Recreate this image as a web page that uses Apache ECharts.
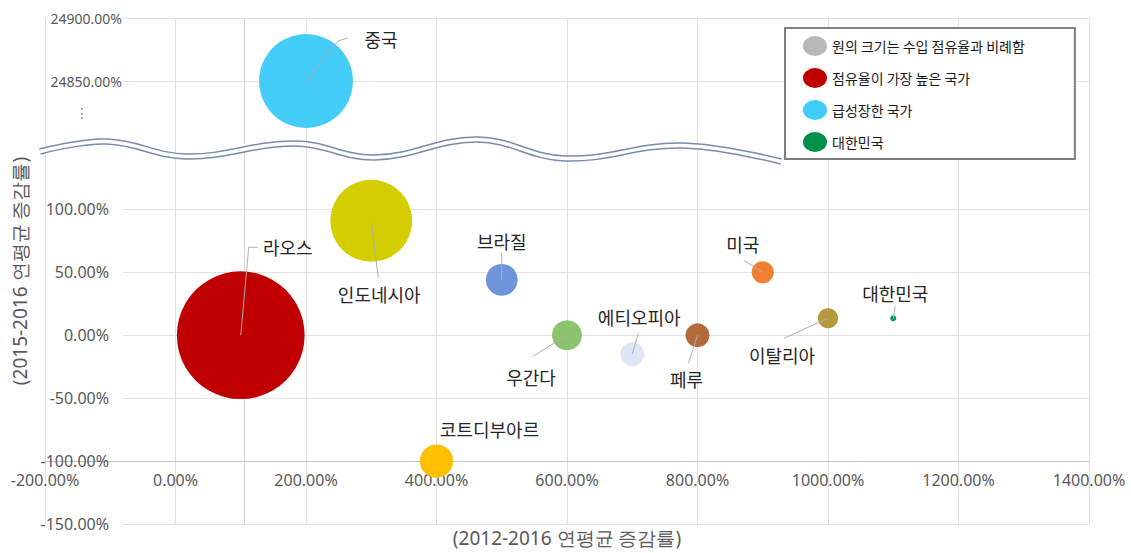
<!DOCTYPE html>
<html>
<head>
<meta charset="utf-8">
<script src="https://cdn.jsdelivr.net/npm/echarts@6.0.0/dist/echarts.min.js"></script>
<style>
  html, body { margin: 0; padding: 0; background: #ffffff; }
  #chart { width: 1131px; height: 553px; }
</style>
</head>
<body>
<div id="chart"></div>
<script>
// ---- data ----
const countries = ['중국', '인도네시아', '라오스', '브라질', '우간다', '에티오피아', '페루', '미국', '이탈리아', '대한민국', '코트디부아르'];
const growth2012to2016 = [200, 300, 100, 500, 600, 700, 800, 900, 1000, 1100, 400];      // 연평균 증감률 (%)
const growth2015to2016 = [24850, 91, 0, 44, 0, -15, 0, 50, 13.5, 13.5, -100];          // 증감률 (%)
const importShare = [21.6, 16.4, 40.0, 2.5, 2.2, 1.4, 1.4, 1.2, 1.0, 0.09, 2.7];       // 수입 점유율 (%)
const legendLabels = ['원의 크기는 수입 점유율과 비례함', '점유율이 가장 높은 국가', '급성장한 국가', '대한민국'];
const xTitle = '(2012-2016 연평균 증감률)';
const yTitle = '(2015-2016 연평균 증감률)';
const xScale = { min: -200, max: 1400, interval: 200 };
const yLowerScale = { min: -150, max: 148, interval: 50 };
const yUpperScale = { min: 24800, max: 24900, interval: 50 };
const xAxisCross = -100;   // horizontal axis crosses the value axis here

// ---- styles & layout ----
const FONT_KR = "'Noto Sans CJK KR', 'Noto Sans', sans-serif";
const FONT_NUM = "'Noto Sans', 'DejaVu Sans', sans-serif";
const GRID_LINE = '#e1e1e1';
const TICK_TEXT = '#595959';
const SIZE_SCALE = 20.2;   // bubble diameter per sqrt(share)

const bubbleColor = {
  '중국': '#44CDF9', '인도네시아': '#D4CD00', '라오스': '#C00000', '브라질': '#6E95DA',
  '우간다': '#8CC36F', '에티오피아': '#DCE6F6', '페루': '#B4693B', '미국': '#F0802F',
  '이탈리아': '#B69A3B', '대한민국': '#0C9D6C', '코트디부아르': '#FFC000'
};

// label offset from bubble centre and leader line path (pixels, relative to centre)
const labelPlacement = {
  '중국':       { offset: [75, -42], leader: [[0, 0], [32, -40], [42, -43]] },
  '인도네시아': { offset: [8, 73],   leader: [[0, 0], [7, 57]] },
  '라오스':     { offset: [47, -88], leader: [[0, 0], [8, -88], [17, -88]] },
  '브라질':     { offset: [0, -39],  leader: [[0, 0], [0, -27]] },
  '우간다':     { offset: [-36, 42], leader: [[0, 0], [-34, 21]] },
  '에티오피아': { offset: [7, -37],  leader: [[0, 0], [6, -21]] },
  '페루':       { offset: [-11, 44], leader: [[0, 0], [-9, 28]] },
  '미국':       { offset: [-20, -28], leader: [[0, 0], [-19, -12]] },
  '이탈리아':   { offset: [-46, 37], leader: [[0, 0], [-44, 20]] },
  '대한민국':   { offset: [2, -25],  leader: [[0, 0], [2, -12]] },
  '코트디부아르': { offset: [53, -32], leader: null }
};

const L = { left: 45, right: 42, axisLeft: 123, upperTop: 18, upperHeight: 126, lowerTop: 149, lowerHeight: 375 };
const fullHeight = L.lowerTop + L.lowerHeight - L.upperTop;
const xAxisShift = -((xAxisCross - yLowerScale.min) / (yLowerScale.max - yLowerScale.min)) * L.lowerHeight;

// wavy break marker across the value axis, relative to the lower plot's top edge
const breakWave = [[40, 0], [107, -10], [187, 5], [295, -8], [375, 6], [477, -12], [565, 7], [681, -6], [781, 10]];

const pct = v => v.toFixed(2) + '%';

function bubble(i) {
  const name = countries[i];
  return {
    name,
    value: [growth2012to2016[i], growth2015to2016[i], importShare[i]],
    itemStyle: { color: bubbleColor[name] },
    label: { offset: labelPlacement[name].offset }
  };
}

function bubbleSeries(name, indices, axisIndex, color) {
  return {
    type: 'scatter', name, xAxisIndex: axisIndex, yAxisIndex: axisIndex,
    data: indices.map(bubble),
    symbolSize: v => SIZE_SCALE * Math.sqrt(v[2]),
    itemStyle: { color, opacity: 1 },
    label: { show: true, position: 'inside', formatter: '{b}', color: '#262626', fontSize: 18, fontFamily: FONT_KR },
    clip: false, silent: true, z: 2,
    emphasis: { disabled: true }
  };
}

function leaderSeries(indices, axisIndex) {
  return {
    type: 'custom', xAxisIndex: axisIndex, yAxisIndex: axisIndex, silent: true, clip: false, z: 5,
    data: indices.filter(i => labelPlacement[countries[i]].leader)
                 .map(i => [growth2012to2016[i], growth2015to2016[i], i]),
    renderItem(params, api) {
      const c = api.coord([api.value(0), api.value(1)]);
      const pts = labelPlacement[countries[api.value(2)]].leader.map(([dx, dy]) => [c[0] + dx, c[1] + dy]);
      return { type: 'polyline', shape: { points: pts }, style: { stroke: '#b0b0b0', lineWidth: 1, fill: null } };
    }
  };
}

const idx = n => countries.indexOf(n);
const upperIdx = [idx('중국')];
const lowerIdx = countries.map((_, i) => i).filter(i => countries[i] !== '중국');
const otherIdx = lowerIdx.filter(i => countries[i] !== '라오스' && countries[i] !== '대한민국');

const hiddenAxis = (gridIndex, range) => ({ type: 'value', gridIndex, show: false, min: range.min, max: range.max });

const chart = echarts.init(document.getElementById('chart'), null, { renderer: 'svg' });

const wavePts = breakWave.map(([x, dy]) => [x, L.lowerTop + dy + 2.5]);

chart.setOption({
  animation: false,
  backgroundColor: '#ffffff',
  textStyle: { fontFamily: FONT_KR },
  grid: [
    { left: L.left, right: L.right, top: L.upperTop, height: fullHeight, outerBoundsMode: 'none' },
    { left: L.left, right: L.right, top: L.upperTop, height: L.upperHeight, outerBoundsMode: 'none' },
    { left: L.left, right: L.right, top: L.lowerTop, height: L.lowerHeight, outerBoundsMode: 'none' },
    { left: L.axisLeft, right: L.right, top: L.upperTop, height: L.upperHeight, outerBoundsMode: 'none' },
    { left: L.axisLeft, right: L.right, top: L.lowerTop, height: L.lowerHeight, outerBoundsMode: 'none' }
  ],
  xAxis: [
    {
      type: 'value', gridIndex: 0, min: xScale.min, max: xScale.max, interval: xScale.interval,
      offset: xAxisShift,
      axisLine: { show: true, onZero: false, lineStyle: { color: '#c4c4c4', width: 1 } },
      axisTick: { show: false },
      splitLine: { show: true, lineStyle: { color: GRID_LINE, width: 1 } },
      axisLabel: { formatter: pct, color: TICK_TEXT, fontSize: 16, fontFamily: FONT_NUM, margin: 11 },
      name: xTitle, nameLocation: 'middle', nameGap: 67,
      nameTextStyle: { color: TICK_TEXT, fontSize: 19, fontFamily: FONT_NUM, lineHeight: 20 }
    },
    hiddenAxis(1, xScale),
    hiddenAxis(2, xScale),
    hiddenAxis(3, xScale),
    hiddenAxis(4, xScale)
  ],
  yAxis: [
    {
      type: 'value', gridIndex: 0, min: 0, max: 1,
      axisLine: { show: false }, axisTick: { show: false }, axisLabel: { show: false }, splitLine: { show: false },
      name: yTitle, nameLocation: 'middle', nameGap: 16, nameRotate: 90,
      nameTextStyle: { color: TICK_TEXT, fontSize: 19, fontFamily: FONT_NUM }
    },
    hiddenAxis(1, yUpperScale),
    hiddenAxis(2, yLowerScale),
    {
      type: 'value', gridIndex: 3, min: yUpperScale.min, max: yUpperScale.max, interval: yUpperScale.interval,
      axisLine: { show: true, lineStyle: { color: '#d6d6d6' } },
      axisTick: { show: false },
      splitLine: { show: true, showMinLine: false, lineStyle: { color: GRID_LINE } },
      axisLabel: { formatter: pct, color: TICK_TEXT, fontSize: 14, fontFamily: FONT_NUM, margin: 1, showMinLabel: false }
    },
    {
      type: 'value', gridIndex: 4, min: yLowerScale.min, max: yLowerScale.max, interval: yLowerScale.interval,
      axisLine: { show: true, lineStyle: { color: '#d6d6d6' } },
      axisTick: { show: false },
      splitLine: { show: true, showMaxLine: false, lineStyle: { color: GRID_LINE } },
      axisLabel: { formatter: pct, color: TICK_TEXT, fontSize: 16, fontFamily: FONT_NUM, margin: 14, showMaxLabel: false }
    }
  ],
  legend: {
    orient: 'vertical', left: 785, top: 28,
    padding: [8, 50, 7, 18],
    backgroundColor: '#ffffff', borderColor: '#7f7f7f', borderWidth: 2, borderRadius: 0,
    itemWidth: 24, itemHeight: 20, itemGap: 12, selectedMode: false,
    icon: 'path://M0,10 A12,10 0 1 1 24,10 A12,10 0 1 1 0,10 Z',
    textStyle: { fontSize: 14, color: '#1a1a1a', fontFamily: FONT_KR },
    data: [
      { name: legendLabels[0], itemStyle: { color: '#A6A6A6' } },
      { name: legendLabels[1], itemStyle: { color: '#C00000' } },
      { name: legendLabels[2], itemStyle: { color: '#3FCDF9' } },
      { name: legendLabels[3], itemStyle: { color: '#00904A' } }
    ],
    z: 20
  },
  series: [
    { type: 'scatter', name: legendLabels[0], xAxisIndex: 2, yAxisIndex: 2, data: [], itemStyle: { color: '#A6A6A6' } },
    bubbleSeries(legendLabels[1], [idx('라오스')], 2, '#C00000'),
    bubbleSeries(legendLabels[2], upperIdx, 1, '#3FCDF9'),
    bubbleSeries(legendLabels[3], [idx('대한민국')], 2, '#00904A'),
    bubbleSeries('기타 국가', otherIdx, 2, '#999999'),
    leaderSeries(lowerIdx, 2),
    leaderSeries(upperIdx, 1)
  ],
  graphic: [
    { type: 'polyline', z: 10, silent: true, shape: { points: wavePts, smooth: 0.4 },
      style: { stroke: '#7a8ca8', lineWidth: 6.5, fill: null } },
    { type: 'polyline', z: 11, silent: true, shape: { points: wavePts, smooth: 0.4 },
      style: { stroke: '#ffffff', lineWidth: 3.5, fill: null } },
    { type: 'text', z: 12, silent: true, x: 82,
      y: L.upperTop + L.upperHeight * (yUpperScale.max - 24825) / (yUpperScale.max - yUpperScale.min),
      style: { text: '⋮', fill: '#7f7f7f', font: "14px 'DejaVu Sans'", align: 'center', verticalAlign: 'middle' } }
  ]
});
</script>
</body>
</html>
